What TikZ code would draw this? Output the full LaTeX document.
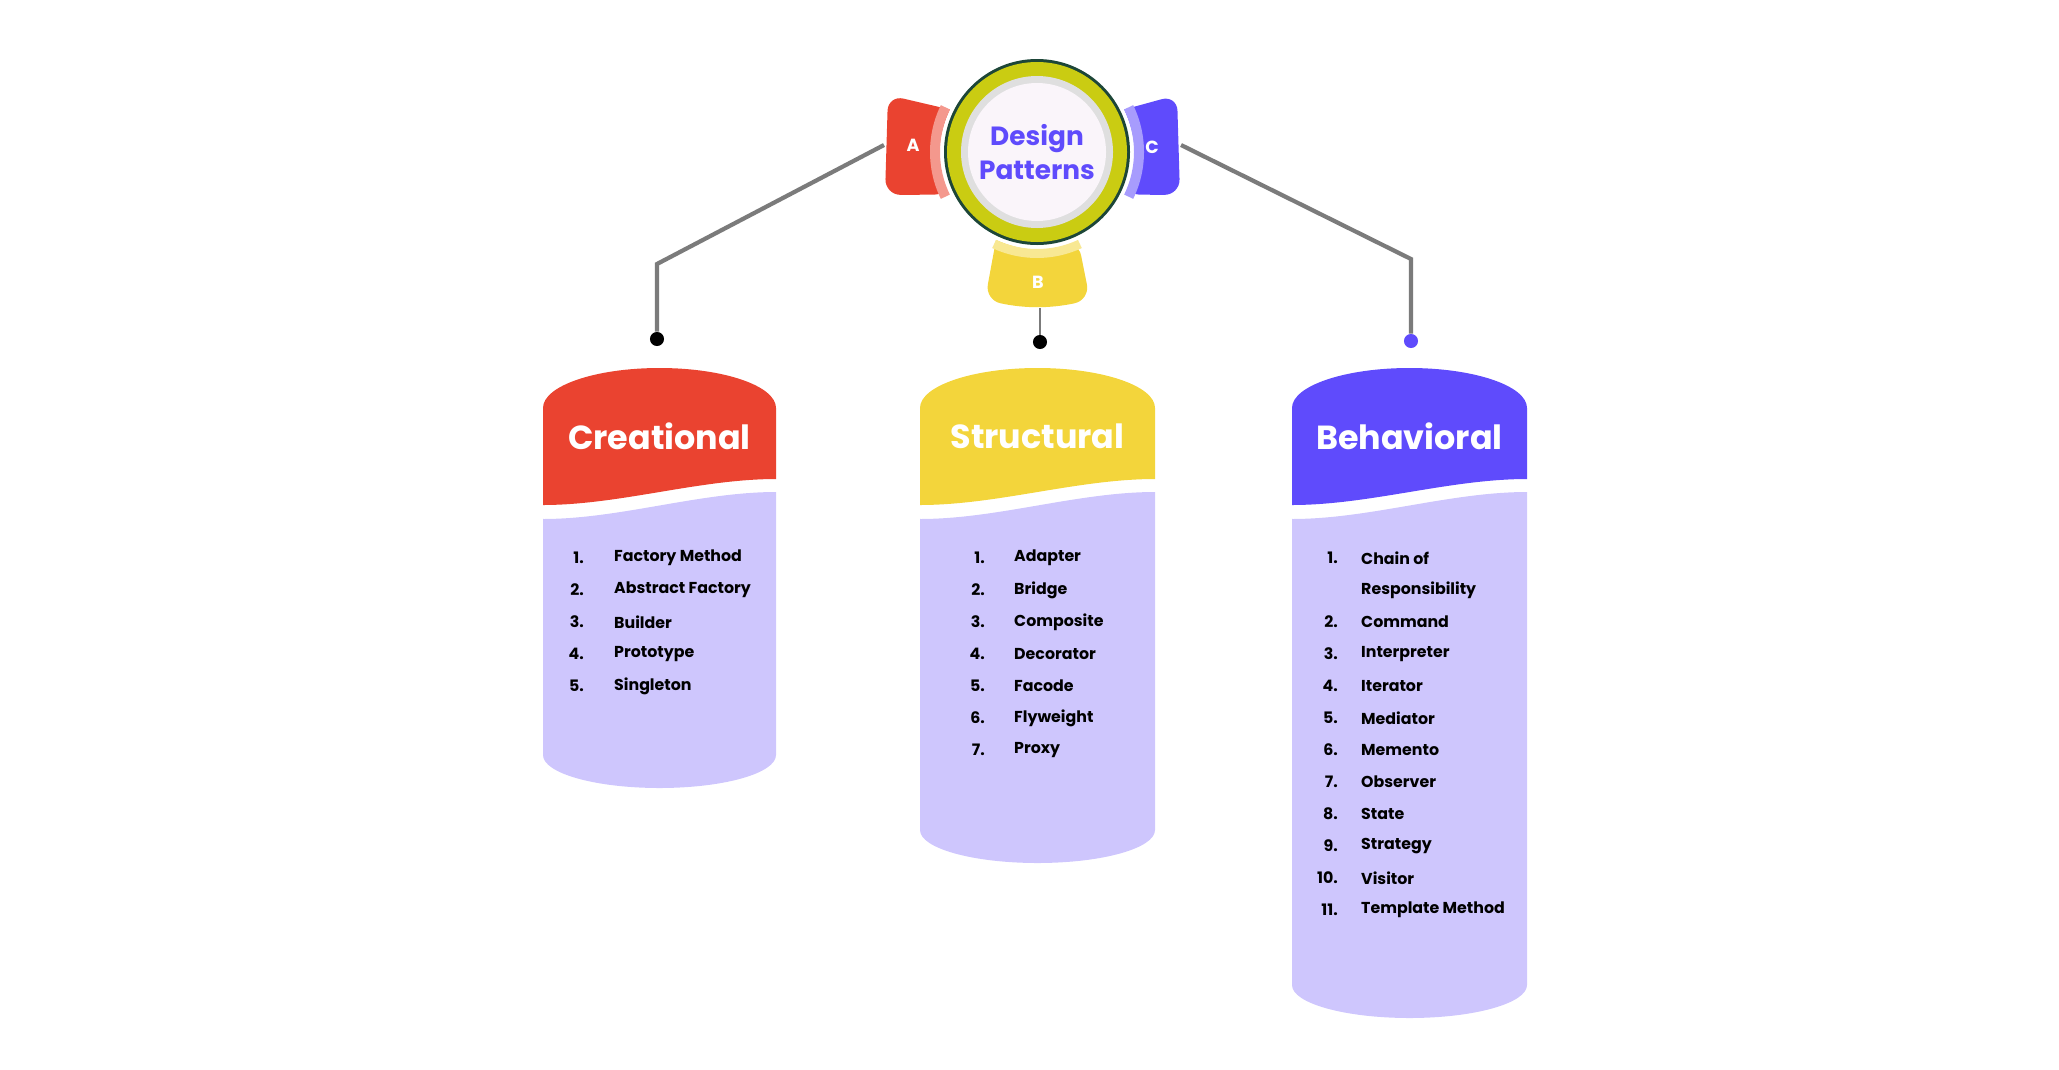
\documentclass[tikz,border=0pt]{standalone}
\usepackage{fontspec}
\setmainfont{Poppins}
\usetikzlibrary{calc,positioning}

\definecolor{creRed}{HTML}{EA4330}
\definecolor{strYel}{HTML}{F3D53B}
\definecolor{behPur}{HTML}{5F4BFC}
\definecolor{bodyLav}{HTML}{CEC6FD}
\definecolor{ringYel}{HTML}{CACC12}
\definecolor{ringDark}{HTML}{1D4638}
\definecolor{linkGray}{HTML}{7B7B7B}

\begin{document}
\begin{tikzpicture}[
    x=0.02cm, y=-0.02cm,
    link/.style={draw=linkGray, line width=2.4pt},
    dot/.style={circle, fill=black, inner sep=0pt, minimum size=8pt},
    tabtext/.style={text=white, font=\fontsize{10}{12}\selectfont\bfseries},
    head/.style={text=white, font=\fontsize{19}{22}\selectfont\bfseries},
    num/.style={anchor=east, font=\fontsize{9}{11}\selectfont\bfseries},
    item/.style={anchor=west, font=\fontsize{9}{11}\selectfont\bfseries}
]
\useasboundingbox (0,0) rectangle (2059,1069);

% Center circle
\coordinate (c) at (1037,152);
\fill[creRed] ($(c)+(154:97)$) arc[start angle=154, end angle=206, radius=97]
    [rounded corners=9] -- (888,95) -- (885,195) -- cycle;
\fill[creRed!55!white] ($(c)+(154:97)$) arc[start angle=154, end angle=206, radius=97]
    -- ($(c)+(206:107)$) arc[start angle=206, end angle=154, radius=107] -- cycle;
\fill[behPur] ($(c)+(26:97)$) arc[start angle=26, end angle=-26, radius=97]
    [rounded corners=9] -- (1177,95) -- (1180,195) -- cycle;
\fill[behPur!55!white] ($(c)+(26:97)$) arc[start angle=26, end angle=-26, radius=97]
    -- ($(c)+(-26:107)$) arc[start angle=-26, end angle=26, radius=107] -- cycle;
\fill[strYel] ($(c)+(65:97)$) arc[start angle=65, end angle=115, radius=97]
    [rounded corners=9] -- (985,300) to[bend right=12] (1090,300) -- cycle;
\fill[strYel!55!white] ($(c)+(65:97)$) arc[start angle=65, end angle=115, radius=97]
    -- ($(c)+(115:106)$) arc[start angle=115, end angle=65, radius=106] -- cycle;
\fill[ringDark] (c) circle[radius=93];
\fill[ringYel] (c) circle[radius=90];
\fill[gray!25] (c) circle[radius=76];
\fill[white!96!violet] (c) circle[radius=69];
\node[text=behPur, align=center, font=\fontsize{15}{19}\selectfont\bfseries] (title) at (c) {Design\\Patterns};
\node[tabtext] (tabA) at (913,145) {A};
\node[tabtext] (tabB) at (1038,282) {B};
\node[tabtext] (tabC) at (1152,147) {C};

% Links
\coordinate (aOut) at (884,145);
\coordinate (aBend) at (657,264);
\coordinate (cOut) at (1181,145);
\coordinate (cBend) at (1411,259);
\coordinate (bOut) at (1040,308);
\node[dot] (dotCre) at (657,339) {};
\node[dot] (dotStr) at (1040,342) {};
\node[dot, fill=behPur] (dotBeh) at (1411,341) {};
\draw[link] (aOut) -- (aBend) -- (dotCre);
\draw[link] (cOut) -- (cBend) -- (dotBeh);
\draw[link, line width=1.5pt] (bOut) -- (dotStr);

% Cylinders: left x, right x, bottom y, colour, name
\foreach \xl/\xr/\yb/\col/\nm in {543/776/788/creRed/cre, 920/1155/863/strYel/str, 1292/1527/1018/behPur/beh}{
  \pgfmathsetmacro{\cx}{(\xl+\xr)/2}
  \pgfmathsetmacro{\rx}{(\xr-\xl)/2}
  \fill[bodyLav] (\xl,518) -- (\xl,\yb-33) arc[start angle=180, end angle=0, x radius=\rx, y radius=33]
      -- (\xr,492) .. controls (\cx+40,492) and (\cx-40,519) .. (\xl,519) -- cycle;
  \fill[\col] (\xl,505) -- (\xl,408) arc[start angle=180, end angle=360, x radius=\rx, y radius=40]
      -- (\xr,479) .. controls (\cx+40,479) and (\cx-40,505) .. (\xl,505) -- cycle;
  \coordinate (\nm-top) at (\cx,436);
}
\node[head] (creHead) at (cre-top) {Creational};
\node[head] (strHead) at (str-top) {Structural};
\node[head] (behHead) at (beh-top) {Behavioral};

% Lists
\foreach \n/\t [count=\i] in {1./Factory Method, 2./Abstract Factory, 3./Builder, 4./Prototype, 5./Singleton}{
  \node[num] (creN\i) at (590,{558+32*(\i-1)}) {\n};
  \node[item] (creT\i) at (608,{558+32*(\i-1)}) {\t};
}
\foreach \n/\t [count=\i] in {1./Adapter, 2./Bridge, 3./Composite, 4./Decorator, 5./Facode, 6./Flyweight, 7./Proxy}{
  \node[num] (strN\i) at (991,{558+32*(\i-1)}) {\n};
  \node[item] (strT\i) at (1008,{558+32*(\i-1)}) {\t};
}
\foreach \n/\t [count=\i] in {1./Chain of, /Responsibility, 2./Command, 3./Interpreter, 4./Iterator, 5./Mediator, 6./Memento, 7./Observer, 8./State, 9./Strategy, 10./Visitor, 11./Template Method}{
  \node[num] (behN\i) at (1344,{558+32*(\i-1)}) {\n};
  \node[item] (behT\i) at (1355,{558+32*(\i-1)}) {\t};
}
\end{tikzpicture}
\end{document}
